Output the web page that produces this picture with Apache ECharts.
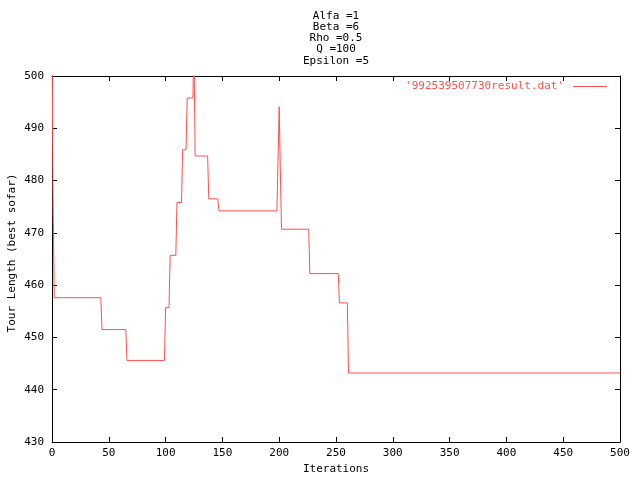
<!DOCTYPE html>
<html>
<head>
<meta charset="utf-8">
<script src="https://cdn.jsdelivr.net/npm/echarts@6/dist/echarts.min.js"></script>
<style>html,body{margin:0;padding:0;background:#fff}#c{width:640px;height:480px}</style>
</head>
<body>
<div id="c"></div>
<script>
var titleLines = ['Alfa =1', 'Beta =6', 'Rho =0.5', 'Q =100', 'Epsilon =5'];
var seriesName = "'992539507730result.dat'";
var xTicks = [0, 50, 100, 150, 200, 250, 300, 350, 400, 450, 500];
var yTicks = [430, 440, 450, 460, 470, 480, 490, 500];
var iterations = [0, 1, 2, 43, 44, 65, 66, 99, 100, 103, 104, 109, 110, 114, 115, 118, 119, 124, 125, 126, 137, 138, 146, 147, 198, 200, 201, 202, 226, 227, 252, 253, 260, 261, 500];
var tourLength = [510, 474.6, 457.6, 457.6, 451.5, 451.5, 445.6, 445.6, 455.7, 455.7, 465.7, 465.7, 475.8, 475.8, 485.9, 485.9, 495.8, 495.8, 505, 484.7, 484.7, 476.5, 476.5, 474.2, 474.2, 494.1, 482.0, 470.7, 470.7, 462.2, 462.2, 456.6, 456.6, 443.2, 443.2];

var font = 'DejaVu Sans Mono';
var red = '#ff5050';
var data = iterations.map(function (x, i) { return [x, tourLength[i]]; });

var chart = echarts.init(document.getElementById('c'), null, {renderer: 'canvas'});
var axisBase = {
  type: 'value',
  axisLine: {show: true, onZero: false, lineStyle: {color: '#000', width: 1}},
  axisTick: {show: true, inside: true, length: 5, lineStyle: {color: '#000'}},
  splitLine: {show: false}
};
chart.setOption({
  animation: false,
  backgroundColor: '#fff',
  title: {
    text: titleLines.join('\n'),
    left: 336, top: 10, textAlign: 'center', padding: 0,
    textStyle: {fontFamily: font, fontSize: 11, fontWeight: 'normal', color: '#000', lineHeight: 11.3}
  },
  grid: {left: 52, right: 20, top: 76, bottom: 34, show: false},
  legend: {
    data: [{name: seriesName, icon: 'rect'}], right: 33, top: 81, align: 'right', padding: 0,
    itemWidth: 34, itemHeight: 1, itemGap: 8,
    itemStyle: {color: red, borderWidth: 0},
    textStyle: {fontFamily: font, fontSize: 11, color: red, padding: [0, 4, 0, 0]}
  },
  xAxis: [
    Object.assign({}, axisBase, {
      min: 0, max: 500, interval: 50, position: 'bottom',
      axisLabel: {fontFamily: font, fontSize: 11, color: '#000', margin: 6},
      name: 'Iterations', nameLocation: 'middle', nameGap: 22,
      nameTextStyle: {fontFamily: font, fontSize: 11, color: '#000'}
    }),
    Object.assign({}, axisBase, {
      min: 0, max: 500, interval: 50, position: 'top', axisLabel: {show: false}
    })
  ],
  yAxis: [
    Object.assign({}, axisBase, {
      min: 430, max: 500, interval: 10, position: 'left',
      axisLabel: {fontFamily: font, fontSize: 11, color: '#000', margin: 8}
    }),
    Object.assign({}, axisBase, {
      min: 430, max: 500, interval: 10, position: 'right', axisLabel: {show: false}
    })
  ],
  graphic: [{
    type: 'text', x: 12, y: 253, rotation: Math.PI / 2,
    style: {text: 'Tour Length (best sofar)', font: '11px "DejaVu Sans Mono"', fill: '#000',
      textAlign: 'center', textVerticalAlign: 'middle'}
  }],
  series: [{
    name: seriesName, type: 'line', data: data, xAxisIndex: 0, yAxisIndex: 0,
    showSymbol: false, symbol: 'none', clip: true,
    lineStyle: {color: red, width: 1}, itemStyle: {color: red}
  }]
});
</script>
</body>
</html>
